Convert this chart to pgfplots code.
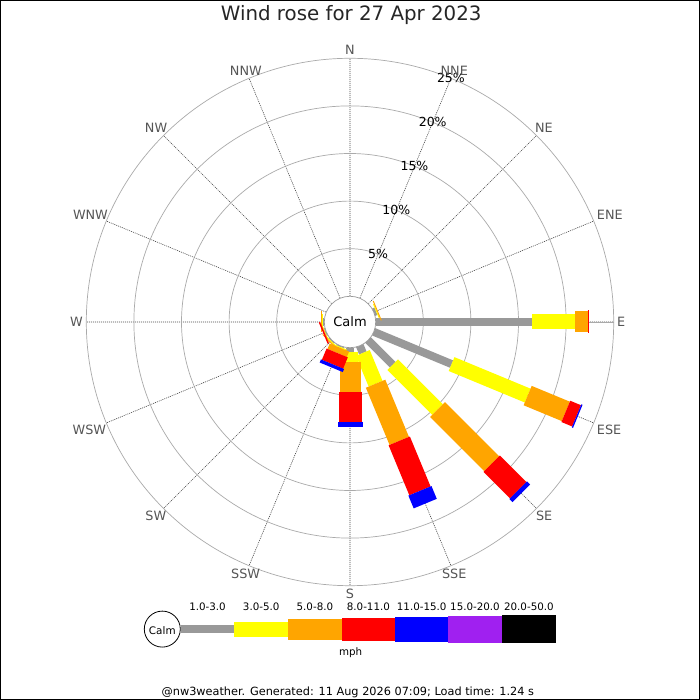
\documentclass[border=0pt]{standalone}
\usepackage{fontspec}
\setmainfont{DejaVu Sans}
\usepackage{pgfplots}
\pgfplotsset{compat=1.18}
\usepgfplotslibrary{polar}

\definecolor{wgray}{HTML}{999999}
\definecolor{wyellow}{HTML}{FFFF00}
\definecolor{worange}{HTML}{FFA500}
\definecolor{wred}{HTML}{FF0000}
\definecolor{wblue}{HTML}{0000FF}
\definecolor{wpurple}{HTML}{A020F0}
\definecolor{gridc}{HTML}{AAAAAA}
\definecolor{spoke}{HTML}{444444}
\definecolor{lab}{HTML}{555555}

% one band of one spoke: colour, width, angle, from %, to %
\newcommand\band[5]{\addplot[draw=#1, line width=#2, no markers] coordinates {(#3,#4) (#3,#5)};}

\begin{document}
\begin{tikzpicture}[x=1bp,y=1bp]
\useasboundingbox (0,0) rectangle (700,700);
\fill[white] (0,0) rectangle (700,700);

\begin{polaraxis}[
  at={(350bp,378bp)}, anchor=origin,
  scale only axis, width=527.4bp, height=527.4bp,
  xmin=0, xmax=360, ymin=0, ymax=27.7,
  xtick={0,22.5,...,337.5}, ytick={7.7,12.7,17.7,22.7},
  xticklabels={}, yticklabels={},
  major tick length=0pt,
  grid=major,
  x grid style={spoke, line width=0.6bp, dash pattern=on 1bp off 1bp},
  y grid style={gridc, line width=0.7bp},
  axis line style={gridc, line width=0.7bp},
  clip=false,
  y filter/.expression={y+2.7},
]
% gray 1.0-3.0
\band{wgray}{8bp}{22.5}{0}{0.25}
\band{wgray}{8bp}{0}{0}{16.45}
\band{wgray}{8bp}{337.5}{0}{8.85}
\band{wgray}{8bp}{315}{0}{3.65}
\band{wgray}{8bp}{292.5}{0}{0.82}
\band{wgray}{8bp}{270}{0}{0.42}
\band{wgray}{8bp}{247.5}{0}{0.1}
\band{wgray}{8bp}{225}{0}{0.1}
\band{wgray}{8bp}{202.5}{0}{0.1}
\band{wgray}{8bp}{180}{0}{0.1}
% yellow 3.0-5.0
\band{wyellow}{15bp}{22.5}{0.25}{0.35}
\band{wyellow}{15bp}{0}{16.45}{20.97}
\band{wyellow}{15bp}{337.5}{8.85}{17.5}
\band{wyellow}{15bp}{315}{3.65}{10.3}
\band{wyellow}{15bp}{292.5}{0.82}{4.32}
\band{wyellow}{15bp}{270}{0.42}{1.47}
\band{wyellow}{15bp}{247.5}{0.1}{0.2}
\band{wyellow}{15bp}{225}{0.1}{0.2}
\band{wyellow}{15bp}{202.5}{0.1}{0.15}
\band{wyellow}{15bp}{180}{0.1}{0.2}
% orange 5.0-8.0
\band{worange}{21bp}{22.5}{0.35}{0.45}
\band{worange}{21bp}{0}{20.97}{22.27}
\band{worange}{21bp}{337.5}{17.5}{21.84}
\band{worange}{21bp}{315}{10.3}{18.35}
\band{worange}{21bp}{292.5}{4.32}{10.82}
\band{worange}{21bp}{270}{1.47}{4.62}
\band{worange}{21bp}{247.5}{0.2}{0.82}
\band{worange}{21bp}{225}{0.2}{0.3}
\band{worange}{21bp}{202.5}{0.15}{0.2}
\band{worange}{21bp}{180}{0.2}{0.3}
% red 8.0-11.0
\band{wred}{23bp}{0}{22.27}{22.44}
\band{wred}{23bp}{337.5}{21.84}{23.06}
\band{wred}{23bp}{315}{18.35}{22.28}
\band{wred}{23bp}{292.5}{10.82}{16.5}
\band{wred}{23bp}{270}{4.62}{7.77}
\band{wred}{23bp}{247.5}{0.82}{2.1}
\band{wred}{23bp}{202.5}{0.2}{0.35}
% blue 11.0-15.0
\band{wblue}{25bp}{337.5}{23.06}{23.2}
\band{wblue}{25bp}{315}{22.28}{22.75}
\band{wblue}{25bp}{292.5}{16.5}{17.95}
\band{wblue}{25bp}{270}{7.77}{8.36}
\band{wblue}{25bp}{247.5}{2.1}{2.45}

% calm circle
\draw[fill=white, draw=wgray, line width=0.7bp] (axis cs:0,0) circle[radius=25.7bp];
\node[font=\fontsize{13bp}{15bp}\selectfont] at (axis cs:0,0) {Calm};

% radial scale labels
\begin{scope}[every node/.style={font=\fontsize{12.5bp}{15bp}\selectfont, inner sep=0pt}]
\node at (axis cs:67.5,7.7) {5\%};
\node at (axis cs:67.5,12.7) {10\%};
\node at (axis cs:67.5,17.7) {15\%};
\node at (axis cs:67.5,22.7) {20\%};
\node at (axis cs:67.5,27.7) {25\%};
\end{scope}

% compass points
\begin{scope}[every node/.style={font=\fontsize{12.8bp}{15bp}\selectfont, text=lab, inner sep=1bp}]
\node[anchor=270] at (axis cs:90,27.94) {N};
\node[anchor=247.5] at (axis cs:67.5,27.94) {NNE};
\node[anchor=225] at (axis cs:45,27.94) {NE};
\node[anchor=202.5] at (axis cs:22.5,27.94) {ENE};
\node[anchor=180] at (axis cs:0,27.94) {E};
\node[anchor=157.5] at (axis cs:337.5,27.94) {ESE};
\node[anchor=135] at (axis cs:315,27.94) {SE};
\node[anchor=112.5] at (axis cs:292.5,27.94) {SSE};
\node[anchor=90] at (axis cs:270,27.94) {S};
\node[anchor=67.5] at (axis cs:247.5,27.94) {SSW};
\node[anchor=45] at (axis cs:225,27.94) {SW};
\node[anchor=22.5] at (axis cs:202.5,27.94) {WSW};
\node[anchor=0] at (axis cs:180,27.94) {W};
\node[anchor=337.5] at (axis cs:157.5,27.94) {WNW};
\node[anchor=315] at (axis cs:135,27.94) {NW};
\node[anchor=292.5] at (axis cs:112.5,27.94) {NNW};
\end{scope}
\end{polaraxis}

% title
\node[anchor=base, font=\fontsize{19.8bp}{23bp}\selectfont, text=black!85] at (351.2,679.3) {Wind rose for 27 Apr 2023};

% legend
\draw[fill=white, draw=black, line width=0.8bp] (162.3,70.9) circle[radius=18];
\node[anchor=base, font=\fontsize{10.4bp}{12bp}\selectfont] at (162.3,65.7) {Calm};
\fill[wgray]   (180.7,66.9) rectangle (234.3,74.9);
\fill[wyellow] (234.3,63.4) rectangle (288.0,78.4);
\fill[worange] (288.0,60.4) rectangle (341.7,81.4);
\fill[wred]    (341.7,59.4) rectangle (395.0,82.4);
\fill[wblue]   (395.0,58.4) rectangle (448.3,83.4);
\fill[wpurple] (448.3,57.4) rectangle (501.7,84.4);
\fill[black]   (501.7,56.6) rectangle (556.0,85.2);
\begin{scope}[every node/.style={anchor=base, font=\fontsize{10.3bp}{12bp}\selectfont}]
\node at (207.5,89.3) {1.0-3.0};
\node at (261.2,89.3) {3.0-5.0};
\node at (314.9,89.3) {5.0-8.0};
\node at (368.4,89.3) {8.0-11.0};
\node at (421.7,89.3) {11.0-15.0};
\node at (475.0,89.3) {15.0-20.0};
\node at (528.9,89.3) {20.0-50.0};
\node at (350.7,44) {mph};
\end{scope}

% footer
\node[anchor=base, font=\fontsize{11.3bp}{13bp}\selectfont] at (347.8,4.5) {@nw3weather. Generated: 11 Aug 2026 07:09; Load time: 1.24 s};

\draw[black, line width=1bp] (0.5,0.5) rectangle (699.5,699.5);
\end{tikzpicture}
\end{document}
